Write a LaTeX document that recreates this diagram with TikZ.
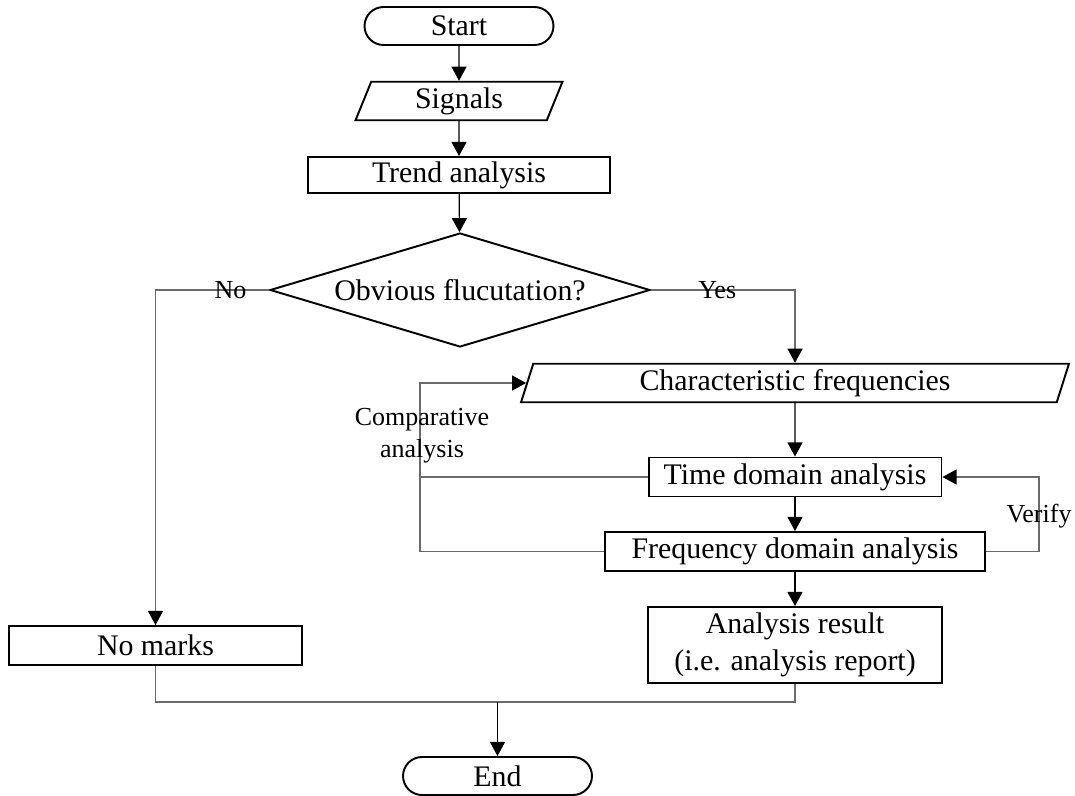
\documentclass[tikz,border=0pt]{standalone}
\usepackage{fontspec}
\setmainfont{Liberation Serif}
\usetikzlibrary{positioning,calc,shapes.geometric,arrows.meta}
\definecolor{lnkgray}{HTML}{6A6A6A}

\begin{document}
\begin{tikzpicture}[
  x=0.02cm, y=-0.02cm,
  boxbase/.style={draw=black, line width=1.1pt, inner sep=0pt, align=center,
                  font=\fontsize{17}{21}\selectfont},
  termbox/.style={boxbase, rectangle, rounded corners=0.38cm,
                  minimum width=3.78cm, minimum height=0.76cm},
  procbox/.style={boxbase, rectangle, minimum height=0.78cm},
  iobox/.style={boxbase, trapezium, trapezium stretches body, minimum height=0.77cm},
  decbox/.style={boxbase, diamond, aspect=3.3, minimum width=7.6cm, minimum height=2.28cm},
  flow/.style={-{Triangle[length=8pt,width=8.5pt,color=black]}, line width=0.7pt},
  link/.style={draw=lnkgray, line width=0.7pt},
  lbl/.style={inner sep=1pt, font=\fontsize{14.8}{18.2}\selectfont, align=center},
]
\useasboundingbox (0,0) rectangle (1075,795);

% column centres (pixel-like units, y grows downward)
\def\midx{459}   % main column
\def\rgtx{795}   % right branch
\def\lftx{155.5} % left branch

% --- Main column
\node[termbox] (start) at (\midx,26) {Start};
\node[iobox, trapezium left angle=60, trapezium right angle=120,
      minimum width=4.14cm] (sig) at (\midx,101) {Signals};
\node[procbox, minimum width=6.04cm, minimum height=0.72cm] (trend) at (\midx,175) {Trend analysis};
\node[decbox] (dec) at (460,290) {Obvious flucutation?};

% --- Right branch
\node[iobox, trapezium left angle=66, trapezium right angle=114,
      minimum width=10.96cm] (chr) at (\rgtx,383) {Characteristic frequencies};
\node[procbox, minimum width=5.86cm] (tda) at (\rgtx,477) {Time domain analysis};
\node[procbox, minimum width=7.6cm] (fda) at (\rgtx,551.5) {Frequency domain analysis};
\node[procbox, minimum width=5.88cm, minimum height=1.52cm] (res) at (\rgtx,645)
  {Analysis result\\(i.e. analysis report)};

% --- Left branch + end
\node[procbox, minimum width=5.86cm] (nom) at (\lftx,645.5) {No marks};
\node[termbox] (stop) at (497.5,776) {End};
\coordinate (mrg) at (497.5,702);

% --- Straight flow
\draw[flow] (start) -- (sig);
\draw[flow] (sig) -- (trend);
\draw[flow] (trend) -- (dec);
\draw[flow] (chr) -- (tda);
\draw[flow] (tda) -- (fda);
\draw[flow] (fda) -- (res);

% --- Decision branches
\draw[link, flow] (dec.west) -| node[lbl, pos=0.17, text=black] (nolbl) {No} (nom.north);
\draw[link, flow] (dec.east) -| node[lbl, pos=0.23, text=black] (yeslbl) {Yes} (chr.north);

% --- Loops
\draw[link, flow] (fda.west) -- ++(-184,0) coordinate (cmpb) |- (chr.west);
\draw[link] (tda.west) -- (tda.west -| cmpb);
\node[lbl] (cmplbl) at (422,436) {Comparative\\analysis};
\draw[link, flow] (fda.east) -- ++(53,0) coordinate (vrfb) |- (tda.east);
\node[lbl] (vrflbl) at (1039,516) {Verify};

% --- Merge to end
\draw[link] (nom.south) |- (mrg) -| (res.south);
\draw[flow] (mrg) -- (stop);
\end{tikzpicture}
\end{document}
